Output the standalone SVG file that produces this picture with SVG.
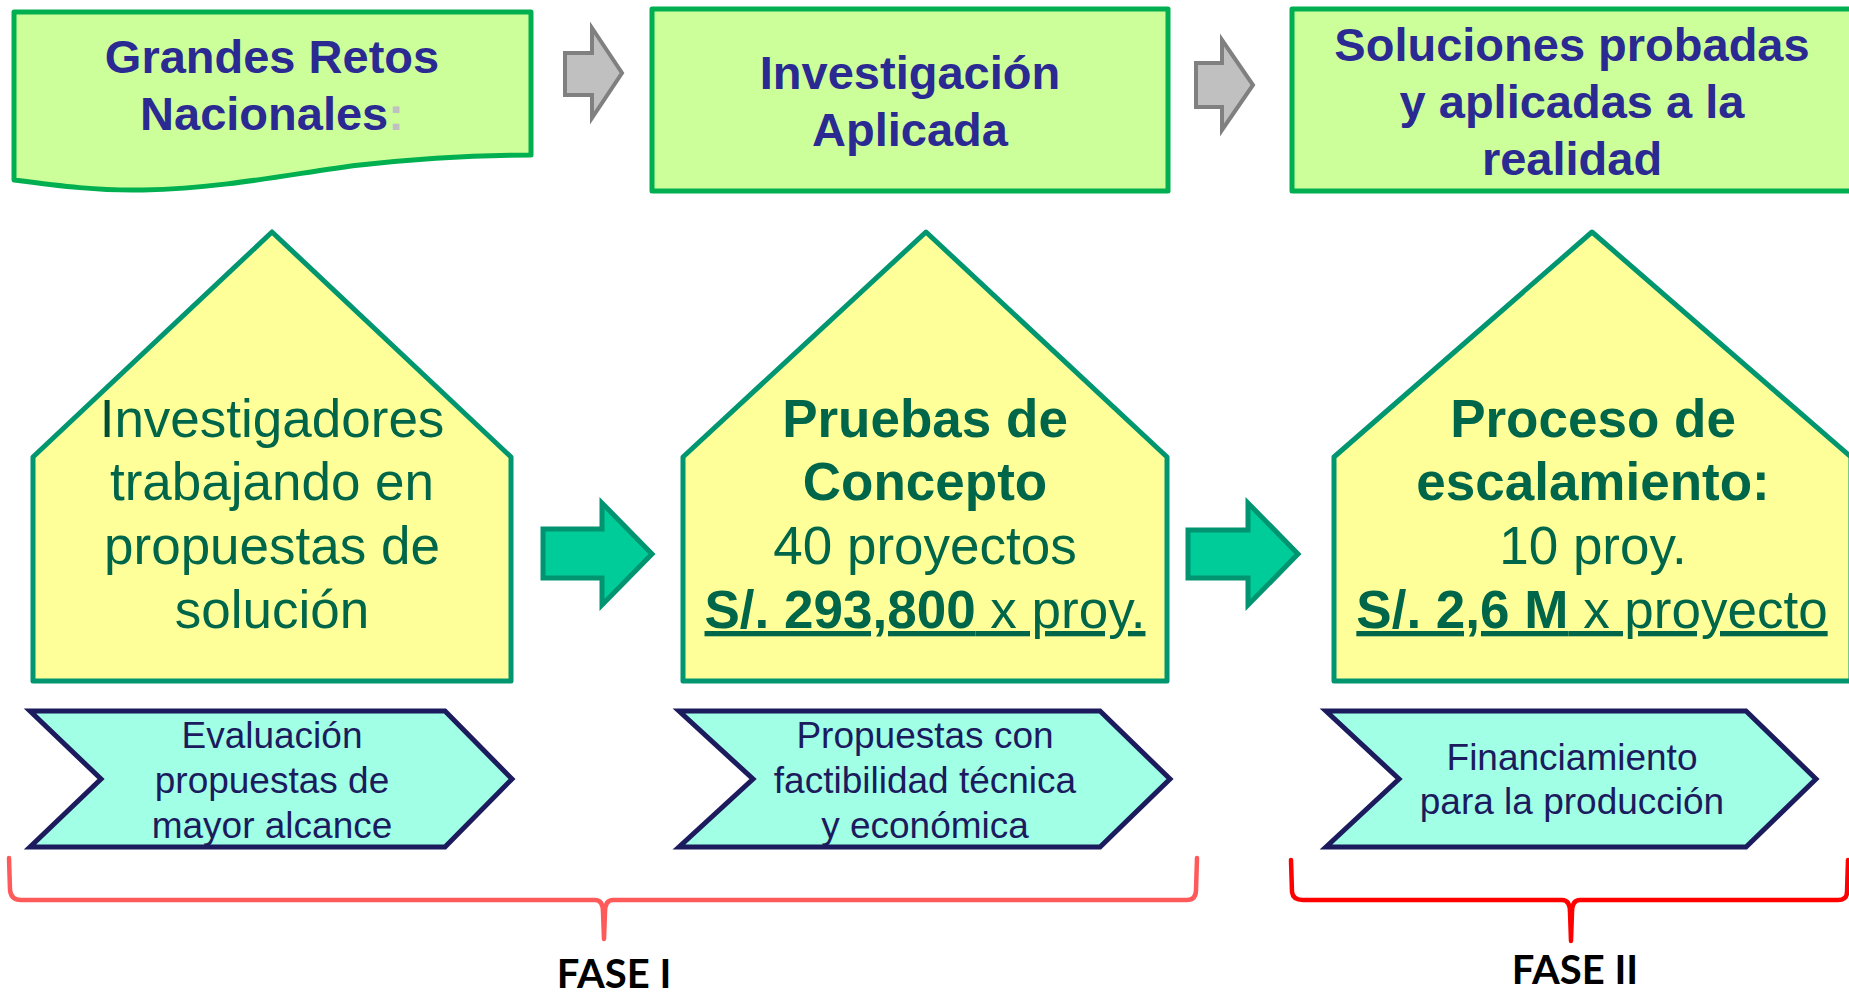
<svg xmlns="http://www.w3.org/2000/svg" width="1849" height="998" viewBox="0 0 1849 998">
<style>
.top{fill:#ccff99;stroke:#00b050;stroke-width:5;stroke-linejoin:round}
.topt{font-family:"Liberation Sans",Arial,sans-serif;font-weight:bold;font-size:47px;fill:#2a2a92;text-anchor:middle}
.house{fill:#ffff99;stroke:#009670;stroke-width:5;stroke-linejoin:round}
.ht{font-family:"Liberation Sans",Arial,sans-serif;font-size:53px;fill:#00664a;text-anchor:middle}
.b{font-weight:bold}
.chev{fill:#a0ffe4;stroke:#1b1b5e;stroke-width:5;stroke-linejoin:miter}
.ct{font-family:"Liberation Sans",Arial,sans-serif;font-size:37px;fill:#1b1b5e;text-anchor:middle}
.garrow{fill:#c0c0c0;stroke:#808080;stroke-width:4}
.marrow{fill:#00cc99;stroke:#009470;stroke-width:5}
.brace{fill:none;stroke-width:4.5;stroke-linecap:round;stroke-linejoin:round}
.fase{font-family:Lato,"Open Sans",sans-serif;font-weight:bold;font-size:40px;fill:#000;text-anchor:middle}
</style>
<rect width="1849" height="998" fill="#ffffff"/>

<g id="retos">
<path class="top" d="M14,12 H531 V155 C480,155 430,157 360,165 C300,172 230,188 143,190 C100,191 60,186 14,180 Z"/>
<text class="topt" x="272" y="73">Grandes Retos</text>
<text class="topt" x="272" y="130">Nacionales<tspan fill="#c0c0c0">:</tspan></text>
</g>

<g id="investigacion">
<rect class="top" x="652" y="9" width="516" height="182"/>
<text class="topt" x="910" y="89">Investigación</text>
<text class="topt" x="910" y="146">Aplicada</text>
</g>

<g id="soluciones">
<rect class="top" x="1292" y="9" width="600" height="182"/>
<text class="topt" x="1572" y="61">Soluciones probadas</text>
<text class="topt" x="1572" y="118">y aplicadas a la</text>
<text class="topt" x="1572" y="175">realidad</text>
</g>

<g id="investigadores">
<polygon class="house" points="272,232 511,457 511,681 33,681 33,457"/>
<text class="ht" x="272" y="437"><tspan fill="#004d36">I</tspan>nvestigadores</text>
<text class="ht" x="272" y="500">trabajando en</text>
<text class="ht" x="272" y="564">propuestas de</text>
<text class="ht" x="272" y="628">solución</text>
</g>

<g id="pruebas">
<polygon class="house" points="926,232 1167,457 1167,681 683,681 683,457"/>
<text class="ht b" x="925" y="437">Pruebas de</text>
<text class="ht b" x="925" y="500">Concepto</text>
<text class="ht" x="925" y="564">40 proyectos</text>
<text class="ht" x="925" y="628" text-decoration="underline"><tspan class="b">S/. 293,800</tspan> x proy.</text>
</g>

<g id="escalamiento">
<polygon class="house" points="1592,232 1851,457 1851,681 1334,681 1334,457"/>
<text class="ht b" x="1593" y="437">Proceso de</text>
<text class="ht b" x="1593" y="500">escalamiento:</text>
<text class="ht" x="1593" y="564">10 proy.</text>
<text class="ht" x="1592" y="628" text-decoration="underline"><tspan class="b">S/. 2,6 M</tspan> x proyecto</text>
</g>

<g id="evaluacion">
<polygon class="chev" points="30,711 445,711 512,779 445,847 30,847 101,779"/>
<text class="ct" x="272" y="748">Evaluación</text>
<text class="ct" x="272" y="793">propuestas de</text>
<text class="ct" x="272" y="838">mayor alcance</text>
</g>

<g id="factibilidad">
<polygon class="chev" points="679,711 1100,711 1170,779 1100,847 679,847 753,779"/>
<text class="ct" x="925" y="748">Propuestas con</text>
<text class="ct" x="925" y="793">factibilidad técnica</text>
<text class="ct" x="925" y="838">y económica</text>
</g>

<g id="financiamiento">
<polygon class="chev" points="1326,711 1746,711 1816,779 1746,847 1326,847 1399,779"/>
<text class="ct" x="1572" y="770">Financiamiento</text>
<text class="ct" x="1572" y="814">para la producción</text>
</g>

<g id="connectors">
<polygon class="garrow" points="565,53 592,53 592,28 622,73 592,118 592,95 565,95"/>
<polygon class="garrow" points="1196,63 1222,63 1222,40 1253,85 1222,130 1222,107 1196,107"/>
<polygon class="marrow" points="543,529 602,529 602,503 652,554 602,605 602,578 543,578"/>
<polygon class="marrow" points="1188,530 1248,530 1248,503 1298,554 1248,605 1248,578 1188,578"/>
</g>

<g id="fase1">
<path class="brace" stroke="#ff5a5a" d="M9,858 L10,890 Q11,900 21,900 L595,900 Q603,900 603,912 L604,939 L605,912 Q605,900 613,900 L1187,900 Q1196,900 1196,890 L1197,858"/>
<text class="fase" x="614" y="988">FASE I</text>
</g>

<g id="fase2">
<path class="brace" stroke="#ff0000" stroke-width="5" d="M1291,860 L1292,892 Q1293,900 1303,900 L1562,900 Q1570,900 1570,912 L1571,941 L1572,912 Q1572,900 1580,900 L1838,900 Q1847,900 1847,892 L1848,860"/>
<text class="fase" x="1575" y="984">FASE II</text>
</g>
</svg>
